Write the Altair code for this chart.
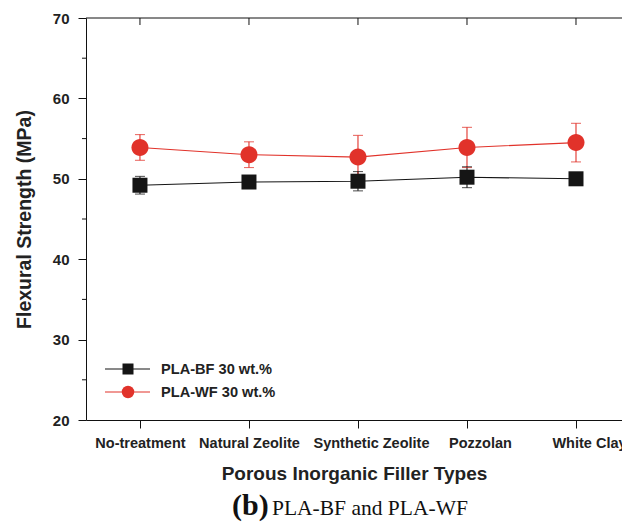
import altair as alt
import pandas as pd

# ---- data ----
categories = ["No-treatment", "Natural Zeolite", "Synthetic Zeolite", "Pozzolan", "White Clay"]
series_names = ["PLA-BF 30 wt.%", "PLA-WF 30 wt.%"]
bf_mean = [49.2, 49.6, 49.7, 50.2, 50.0]
bf_err = [1.1, 0.6, 1.2, 1.3, 0.5]
wf_mean = [53.9, 53.0, 52.7, 53.9, 54.5]
wf_err = [1.6, 1.6, 2.7, 2.5, 2.4]
y_ticks = [20, 30, 40, 50, 60, 70]
y_minor = [25, 35, 45, 55, 65]
x_title = "Porous Inorganic Filler Types"
y_title = "Flexural Strength (MPa)"
caption_bold = "(b)"
caption_text = "PLA-BF and PLA-WF"

rows = []
for s, means, errs in [(series_names[0], bf_mean, bf_err), (series_names[1], wf_mean, wf_err)]:
    for i, (c, m, e) in enumerate(zip(categories, means, errs)):
        rows.append(dict(series=s, idx=i, cat=c, value=m, lo=m - e, hi=m + e))
df = pd.DataFrame(rows)
df_cat = pd.DataFrame({"idx": list(range(len(categories)))})
df_minor = pd.DataFrame({"v": y_minor})

W, H = 536, 402
colors = ["#151515", "#e1322a"]
FONT = "Liberation Sans"

xscale = alt.Scale(domain=[-0.495, 4.422], nice=False, zero=False)
yscale = alt.Scale(domain=[20, 70], nice=False, zero=False)
label_expr = "[" + ",".join("'" + c + "'" for c in categories) + "][round(datum.value)]"

x_axis = alt.Axis(values=list(range(len(categories))), labelExpr=label_expr, title=x_title,
                  grid=False, tickSize=8, tickColor="#111", domainColor="#111",
                  labelFont=FONT, labelFontSize=14.5, labelFontWeight="bold", labelColor="#222",
                  labelPadding=8.5, labelOverlap=False, labelFlush=False,
                  labelOffset=alt.condition("datum.value >= 2", alt.value(13), alt.value(0)),
                  titleFont=FONT, titleFontSize=19, titleFontWeight="bold", titleColor="#222",
                  titlePadding=14)
y_axis = alt.Axis(values=y_ticks, title=y_title, grid=False, tickSize=8, tickColor="#111",
                  domainColor="#111", labelFont=FONT, labelFontSize=15, labelFontWeight="bold",
                  labelColor="#222", labelPadding=9,
                  titleFont=FONT, titleFontSize=19.5, titleFontWeight="bold", titleColor="#222",
                  titlePadding=18)


def X(field):
    return alt.X(field, type="quantitative", scale=xscale, axis=x_axis)


def Y(field):
    return alt.Y(field, type="quantitative", scale=yscale, axis=y_axis)


color = alt.Color("series:N", scale=alt.Scale(domain=series_names, range=colors), legend=None)

base = alt.Chart(df)

lines = base.mark_line(strokeWidth=1.1).encode(x=X("idx"), y=Y("value"), color=color, detail="series:N")
rules = base.mark_rule(strokeWidth=1.1).encode(x=X("idx"), y=Y("lo"), y2="hi:Q", color=color)
caps_lo = base.mark_tick(orient="horizontal", size=10, thickness=1.1).encode(
    x=X("idx"), y=Y("lo"), color=color)
caps_hi = base.mark_tick(orient="horizontal", size=10, thickness=1.1).encode(
    x=X("idx"), y=Y("hi"), color=color)

circle_path = "M1.133,0A1.133,1.133,0,1,1,-1.133,0A1.133,1.133,0,1,1,1.133,0Z"
marker_shapes = ["square", circle_path]
points = base.mark_point(filled=True, opacity=1, size=225).encode(
    x=X("idx"), y=Y("value"), color=color,
    shape=alt.Shape("series:N", scale=alt.Scale(domain=series_names, range=marker_shapes),
                    legend=None),
)

# hand-built legend (line + marker + label per series)
legend_layers = []
legend_marker_sizes = [121, 156]
legend_marker_shapes = ["square", "circle"]
for i, name in enumerate(series_names):
    ly = 351 + 23 * i
    one = alt.Chart(pd.DataFrame({"label": [name]}))
    legend_layers.append(one.mark_rule(color=colors[i], strokeWidth=1.1).encode(
        x=alt.value(19), x2=alt.value(64), y=alt.value(ly)))
    legend_layers.append(one.mark_point(filled=True, opacity=1, color=colors[i],
                                        shape=legend_marker_shapes[i],
                                        size=legend_marker_sizes[i]).encode(
        x=alt.value(42), y=alt.value(ly)))
    legend_layers.append(one.mark_text(align="left", baseline="middle", font=FONT, fontSize=14.6,
                                       fontWeight="bold", color="#222").encode(
        text="label:N", x=alt.value(75), y=alt.value(ly + 1)))

# frame decorations
top_line = alt.Chart(pd.DataFrame({"a": [0]})).mark_rule(color="#111", strokeWidth=1).encode(
    x=alt.value(0), x2=alt.value(W), y=alt.value(0))
top_ticks = alt.Chart(df_cat).mark_rule(color="#111", strokeWidth=1).encode(
    x=X("idx"), y=alt.value(0), y2=alt.value(7))
minor_ticks = alt.Chart(df_minor).mark_rule(color="#111", strokeWidth=1).encode(
    y=Y("v"), x=alt.value(-4), x2=alt.value(0))

cap1 = alt.Chart(pd.DataFrame({"t": [caption_bold]})).mark_text(
    align="left", baseline="alphabetic", font="Liberation Serif", fontSize=30,
    fontWeight="bold", color="#111").encode(text="t:N", x=alt.value(146), y=alt.value(497))
cap2 = alt.Chart(pd.DataFrame({"t": [caption_text]})).mark_text(
    align="left", baseline="alphabetic", font="Liberation Serif", fontSize=21.5,
    color="#111").encode(text="t:N", x=alt.value(186), y=alt.value(497))

chart = alt.layer(
    lines, rules, caps_lo, caps_hi, points, top_line, top_ticks, minor_ticks, *legend_layers, cap1, cap2
).properties(
    width=W, height=H,
    autosize=alt.AutoSizeParams(type="none"),
    padding={"left": 86, "top": 18, "right": 0, "bottom": 103},
    background="white",
).configure_view(stroke=None)

chart.save("out.html", embed_options={"renderer": "svg", "actions": False})
